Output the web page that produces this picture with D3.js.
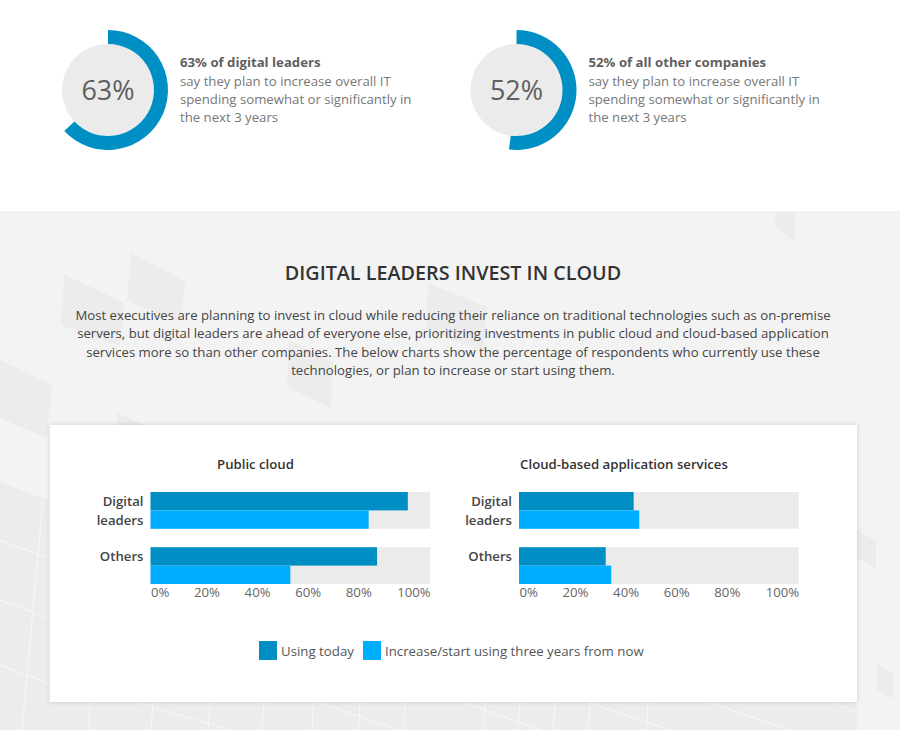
<!DOCTYPE html>
<html>
<head>
<meta charset="utf-8">
<script src="https://cdn.jsdelivr.net/npm/d3@7"></script>
<style>
  html, body { margin: 0; padding: 0; background: #fff; overflow: hidden; }
  text { font-family: "Open Sans", sans-serif; }
  .tick line, .domain { display: none; }
</style>
</head>
<body>
<div id="chart"></div>
<script>
// Ring stats
const ringValues = [63, 52];
const ringHeads = ["63% of digital leaders", "52% of all other companies"];
const ringBody = ["say they plan to increase overall IT", "spending somewhat or significantly in", "the next 3 years"];

// Heading copy
const title = "DIGITAL LEADERS INVEST IN CLOUD";
const intro = [
  "Most executives are planning to invest in cloud while reducing their reliance on traditional technologies such as on-premise",
  "servers, but digital leaders are ahead of everyone else, prioritizing investments in public cloud and cloud-based application",
  "services more so than other companies. The below charts show the percentage of respondents who currently use these",
  "technologies, or plan to increase or start using them."
];

// Bar data
const categories = ["Digital leaders", "Others"];
const categoryLines = [["Digital", "leaders"], ["Others"]];
const seriesNames = ["Using today", "Increase/start using three years from now"];
const panelTitles = ["Public cloud", "Cloud-based application services"];
const publicCloud = [[92, 78], [81, 50]];
const appServices = [[41, 43], [31, 33]];
const panelValues = [publicCloud, appServices];
const tickValues = [0, 20, 40, 60, 80, 100];

const dark = "#008fc5";
const light = "#00aeff";
const track = "#ebebeb";

const width = 900;
const height = 730;

const svg = d3.select("#chart").append("svg")
  .attr("width", width)
  .attr("height", height)
  .style("display", "block");

const defs = svg.append("defs");
defs.append("filter").attr("id", "cardShadow")
  .attr("x", "-5%").attr("y", "-5%").attr("width", "110%").attr("height", "110%")
  .append("feDropShadow")
  .attr("dx", 0).attr("dy", 0).attr("stdDeviation", 2.5)
  .attr("flood-color", "#000").attr("flood-opacity", 0.16);

/*
  Rings
*/
const ringX = [108, 516.5];
const ringY = 90;
const angle = d3.scaleLinear().domain([0, 100]).range([0, 2 * Math.PI]);
const arc = d3.arc().innerRadius(46).outerRadius(60).startAngle(0);

ringValues.forEach((v, i) => {
  const g = svg.append("g").attr("transform", `translate(${ringX[i]},${ringY})`);
  g.append("circle").attr("r", 46).attr("fill", track);
  g.append("path").attr("d", arc({endAngle: angle(v)})).attr("fill", dark);
  g.append("text")
    .attr("text-anchor", "middle").attr("y", 10)
    .attr("font-size", 27).attr("font-weight", 500).attr("fill", "#5f5f5f")
    .text(v + "%");

  const tx = ringX[i] + 72;
  svg.append("text").attr("x", tx).attr("y", 66.5)
    .attr("font-size", 13.2).attr("font-weight", 700).attr("fill", "#5f5f5f")
    .text(ringHeads[i]);
  svg.selectAll(null).data(ringBody).enter().append("text")
    .attr("x", tx)
    .attr("y", (d, j) => 85.5 + j * 18.2)
    .attr("font-size", 13.2).attr("fill", "#777")
    .text(d => d);
});

/*
  Grey section with background shapes
*/
svg.append("rect").attr("x", 0).attr("y", 212).attr("width", width).attr("height", height - 212).attr("fill", "#f3f3f3");
svg.append("rect").attr("x", 0).attr("y", 211.5).attr("width", width).attr("height", 1).attr("fill", "#ececec");

const shapes = [
  [[64, 274], [124, 303], [120, 346], [61, 325]],
  [[131, 253], [185, 281], [181, 322], [127, 301]],
  [[428, 283], [487, 307], [483, 352], [426, 330]],
  [[289, 340], [333, 362], [331, 408], [287, 387]],
  [[0, 360], [52, 385], [47, 438], [0, 418]],
  [[117, 413], [145, 425], [117, 425]],
  [[775, 212], [795, 212], [795, 242], [775, 226]],
  [[857, 530], [876, 541], [876, 569], [857, 558]],
  [[877, 663], [893, 674], [893, 699], [877, 690]],
  [[0, 482], [48, 500], [48, 730], [0, 730]],
  [[48, 702], [857, 702], [857, 730], [48, 730]]
];
svg.selectAll(".bg-shape").data(shapes).enter().append("polygon")
  .attr("class", "bg-shape")
  .attr("points", d => d.join(" "))
  .attr("fill", "#ececec");

const bgLines = [
  [[43, 500], [22, 730]], [[0, 540], [48, 558]], [[0, 600], [48, 618]], [[0, 665], [48, 683]],
  [[90, 702], [89, 730]], [[153, 702], [151, 730]], [[210, 702], [208, 730]], [[264, 702], [262, 730]],
  [[313, 702], [312, 730]], [[360, 702], [359, 730]], [[405, 702], [404, 730]], [[485, 702], [484, 730]],
  [[520, 702], [518, 730]], [[555, 702], [553, 730]], [[590, 702], [588, 730]], [[648, 702], [647, 730]],
  [[140, 703], [230, 730]], [[320, 703], [400, 730]], [[465, 703], [540, 730]], [[590, 703], [670, 730]],
  [[710, 703], [790, 730]], [[835, 703], [857, 713]]
];
svg.selectAll(".bg-line").data(bgLines).enter().append("line")
  .attr("class", "bg-line")
  .attr("x1", d => d[0][0]).attr("y1", d => d[0][1])
  .attr("x2", d => d[1][0]).attr("y2", d => d[1][1])
  .attr("stroke", "#f6f6f6").attr("stroke-width", 1.2);

/*
  Heading
*/
svg.append("text")
  .attr("x", 453).attr("y", 279.5)
  .attr("text-anchor", "middle")
  .attr("font-size", 19.75).attr("font-weight", 600).attr("fill", "#333")
  .text(title);

svg.selectAll(".intro").data(intro).enter().append("text")
  .attr("class", "intro")
  .attr("x", 453)
  .attr("y", (d, i) => 320 + i * 18.3)
  .attr("text-anchor", "middle")
  .attr("font-size", 13.2).attr("fill", "#444")
  .text(d => d);

/*
  Card
*/
svg.append("rect")
  .attr("x", 50).attr("y", 425).attr("width", 807).attr("height", 277)
  .attr("fill", "#fff")
  .attr("filter", "url(#cardShadow)");

/*
  Bar panels
*/
const panelLeft = [150.5, 519];
const panelWidth = 279.7;

const yGroup = d3.scaleBand()
  .domain(categories)
  .range([492, 584])
  .paddingInner(1 / 3);

const ySeries = d3.scaleBand()
  .domain(seriesNames)
  .range([0, yGroup.bandwidth()]);

panelValues.forEach((values, p) => {
  const x = d3.scaleLinear().domain([0, 100]).range([panelLeft[p], panelLeft[p] + panelWidth]);
  // tick labels are justified across the plot width, not on the value scale
  const xTicks = d3.scalePoint().domain(tickValues).range([panelLeft[p] + 5.4, panelLeft[p] + 258.4]);

  const g = svg.append("g");

  g.append("text")
    .attr("x", p === 0 ? 255.5 : 624)
    .attr("y", 469)
    .attr("text-anchor", "middle")
    .attr("font-size", 13.2).attr("font-weight", 600).attr("fill", "#333")
    .text(panelTitles[p]);

  g.selectAll(".track").data(categories).enter().append("rect")
    .attr("class", "track")
    .attr("x", x(0))
    .attr("y", d => yGroup(d))
    .attr("width", x(100) - x(0))
    .attr("height", yGroup.bandwidth())
    .attr("fill", track);

  categories.forEach((c, ci) => {
    g.selectAll(null).data(values[ci]).enter().append("rect")
      .attr("x", x(0))
      .attr("y", (d, si) => yGroup(c) + ySeries(seriesNames[si]))
      .attr("width", d => x(d) - x(0))
      .attr("height", ySeries.bandwidth())
      .attr("fill", (d, si) => si === 0 ? dark : light);
  });

  // Y axis, labels line up with the sub bars
  const yAxis = g.append("g")
    .attr("transform", `translate(${panelLeft[p]},0)`)
    .call(d3.axisLeft(yGroup).tickSize(0).tickPadding(7));
  yAxis.selectAll(".tick text").each(function(d, i) {
    const t = d3.select(this).text(null)
      .attr("font-size", 13.2).attr("font-family", '"Open Sans", sans-serif')
      .attr("font-weight", 600).attr("fill", "#444").attr("dy", null);
    t.selectAll("tspan").data(categoryLines[i]).enter().append("tspan")
      .attr("x", -7)
      .attr("y", (l, j) => -yGroup.bandwidth() / 4 + 5 + j * ySeries.bandwidth())
      .text(l => l);
  });

  // X axis
  const xAxis = g.append("g")
    .attr("transform", "translate(0,584)")
    .call(d3.axisBottom(xTicks).tickSize(0).tickPadding(3.5).tickFormat(d => d + "%"));
  xAxis.selectAll(".tick text")
    .attr("font-size", 13.2)
    .attr("font-family", '"Open Sans", sans-serif')
    .attr("fill", "#666");
  // outer labels sit flush with the plot edges
  xAxis.selectAll(".tick text").filter(d => d === 0)
    .attr("text-anchor", "start")
    .attr("x", x(0) - xTicks(0));
  xAxis.selectAll(".tick text").filter(d => d === 100)
    .attr("text-anchor", "end")
    .attr("x", x(100) - xTicks(100));
});

/*
  Legend
*/
const legendX = [259, 363];
const legendColors = [dark, light];
seriesNames.forEach((name, i) => {
  svg.append("rect")
    .attr("x", legendX[i]).attr("y", 641)
    .attr("width", 18).attr("height", 19)
    .attr("fill", legendColors[i]);
  svg.append("text")
    .attr("x", legendX[i] + 22).attr("y", 656)
    .attr("font-size", 13.25).attr("fill", "#555")
    .text(name);
});
</script>
</body>
</html>
